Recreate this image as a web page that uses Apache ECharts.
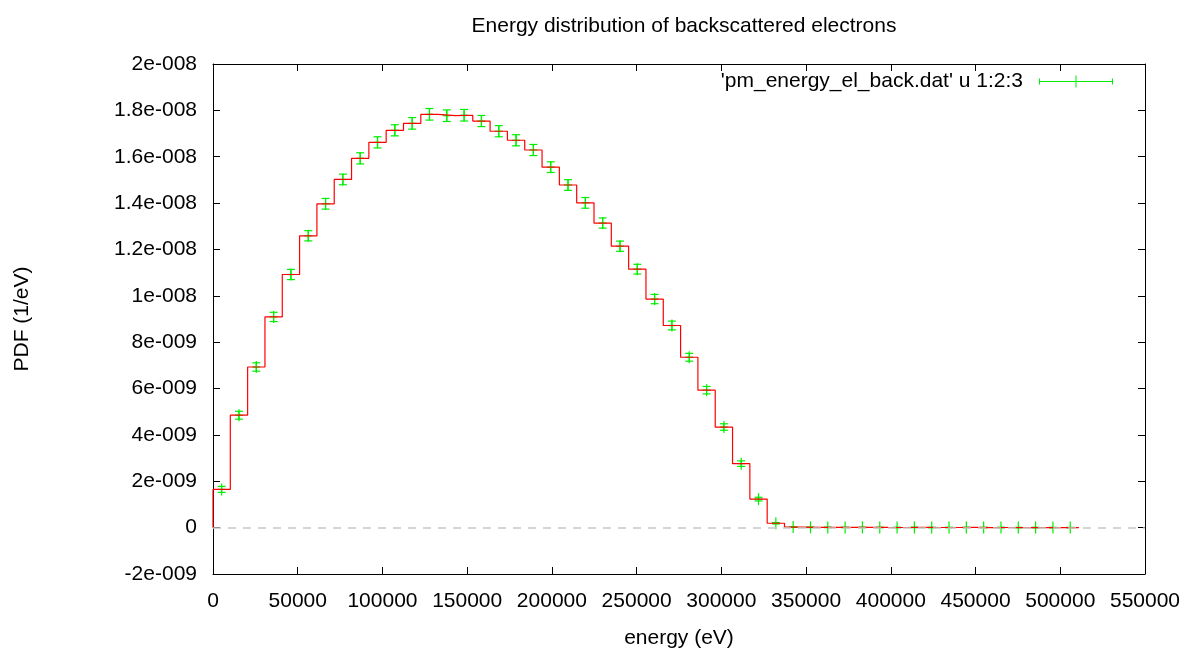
<!DOCTYPE html>
<html>
<head>
<meta charset="utf-8">
<title>Energy distribution of backscattered electrons</title>
<script src="https://cdn.jsdelivr.net/npm/echarts@6/dist/echarts.min.js"></script>
<style>
html, body { margin: 0; padding: 0; background: #fff; }
#chart { width: 1184px; height: 655px; }
</style>
</head>
<body>
<div id="chart"></div>
<script>
// bin centres (eV), 50 bins up to 511 keV
var energy = [5110, 15330, 25550, 35770, 45990, 56210, 66430, 76650, 86870, 97090,
    107310, 117530, 127750, 137970, 148190, 158410, 168630, 178850, 189070, 199290,
    209510, 219730, 229950, 240170, 250390, 260610, 270830, 281050, 291270, 301490,
    311710, 321930, 332150, 342370, 352590, 362810, 373030, 383250, 393470, 403690,
    413910, 424130, 434350, 444570, 454790, 465010, 475230, 485450, 495670, 505890];
// PDF (1/eV)
var pdf = [1.65e-9, 4.85e-9, 6.93e-9, 9.09e-9, 1.092e-8, 1.259e-8, 1.397e-8, 1.502e-8, 1.593e-8, 1.662e-8,
    1.714e-8, 1.744e-8, 1.783e-8, 1.777e-8, 1.779e-8, 1.754e-8, 1.710e-8, 1.671e-8, 1.629e-8, 1.555e-8,
    1.478e-8, 1.401e-8, 1.314e-8, 1.214e-8, 1.115e-8, 9.86e-9, 8.72e-9, 7.35e-9, 5.93e-9, 4.34e-9,
    2.76e-9, 1.23e-9, 1.9e-10, 2.5e-11, 1.2e-11, 1.0e-11, 0.8e-11, 1.0e-11, 0.7e-11, 0.6e-11,
    0.9e-11, 0.5e-11, 0.6e-11, 0.7e-11, 0.4e-11, 0.5e-11, 0.3e-11, 0.4e-11, 0.3e-11, 0.2e-11];
// error column
var err = [1.3e-10, 1.7e-10, 1.8e-10, 2.0e-10, 2.2e-10, 2.2e-10, 2.3e-10, 2.3e-10, 2.4e-10, 2.4e-10,
    2.4e-10, 2.5e-10, 2.5e-10, 2.5e-10, 2.5e-10, 2.4e-10, 2.4e-10, 2.4e-10, 2.4e-10, 2.3e-10,
    2.3e-10, 2.3e-10, 2.2e-10, 2.2e-10, 2.1e-10, 2.0e-10, 1.9e-10, 1.7e-10, 1.6e-10, 1.4e-10,
    1.2e-10, 0.8e-10, 0.3e-10, 0.1e-10, 0.1e-10, 0.1e-10, 0.1e-10, 0.1e-10, 0.1e-10, 0.1e-10,
    0.1e-10, 0.1e-10, 0.1e-10, 0.1e-10, 0.1e-10, 0.1e-10, 0.1e-10, 0.1e-10, 0.1e-10, 0.1e-10];

var seriesName = "'pm_energy_el_back.dat' u 1:2:3";
var font = 'Liberation Sans, Arial, Helvetica, sans-serif';
var fs = 21;
var green = '#00ee00';
var red = '#ff0000';

// points for the error bars
var barData = [];
for (var i = 0; i < energy.length; i++) {
    barData.push([energy[i], pdf[i], err[i]]);
}
// histogram steps (edges halfway between centres)
var stepData = [[0, 0]];
for (var i = 0; i < energy.length; i++) {
    var w = (i < energy.length - 1) ? energy[i + 1] - energy[i] : energy[i] - energy[i - 1];
    stepData.push([energy[i] - w / 2, pdf[i]]);
    stepData.push([energy[i] + w / 2, pdf[i]]);
}

// 1.8e-008 style labels
function expLabel(v) {
    if (Math.abs(v) < 1e-15) return '0';
    var s = Number(v.toPrecision(6)).toExponential();
    var parts = s.split('e');
    var ex = parseInt(parts[1], 10);
    var sign = ex < 0 ? '-' : '+';
    var digits = String(Math.abs(ex));
    while (digits.length < 3) digits = '0' + digits;
    return parts[0] + 'e' + sign + digits;
}

var chart = echarts.init(document.getElementById('chart'));

var axisLineStyle = { color: '#000', width: 1 };
var tickStyle = { show: true, inside: true, length: 7, lineStyle: { color: '#000', width: 1 } };

var option = {
    backgroundColor: '#fff',
    animation: false,
    title: {
        text: 'Energy distribution of backscattered electrons',
        left: 679,
        top: 11,
        textAlign: 'center',
        textStyle: { color: '#000', fontSize: fs, fontWeight: 'normal', fontFamily: font }
    },
    legend: {
        right: 71,
        top: 71,
        padding: 0,
        align: 'right',
        itemWidth: 74,
        itemHeight: 12,
        data: [{
            name: seriesName,
            icon: 'path://M0,3h1v6h-1z M0,5.5h74v1h-74z M73,3h1v6h-1z M36.5,0h1v12h-1z'
        }],
        itemStyle: { color: green },
        textStyle: { color: '#000', fontSize: fs, fontFamily: font, padding: [0, 11, 0, 0] }
    },
    grid: { left: 213, top: 64, width: 932, height: 510, containLabel: false },
    xAxis: [{
        type: 'value',
        min: 0, max: 550000, interval: 50000,
        name: 'energy (eV)',
        nameLocation: 'middle',
        nameGap: 54,
        nameTextStyle: { color: '#000', fontSize: fs, fontFamily: font },
        axisLine: { show: true, onZero: false, lineStyle: axisLineStyle },
        axisTick: tickStyle,
        axisLabel: {
            color: '#000', fontSize: fs, fontFamily: font, margin: 17,
            showMinLabel: true, showMaxLabel: true,
            formatter: function (v) { return String(v); }
        },
        splitLine: { show: false }
    }, {
        type: 'value',
        position: 'top',
        min: 0, max: 550000, interval: 50000,
        axisLine: { show: true, onZero: false, lineStyle: axisLineStyle },
        axisTick: tickStyle,
        axisLabel: { show: false },
        splitLine: { show: false }
    }],
    yAxis: [{
        type: 'value',
        min: -2e-9, max: 2e-8, interval: 2e-9,
        name: 'PDF (1/eV)',
        nameLocation: 'middle',
        nameGap: 180,
        nameRotate: 90,
        nameTextStyle: { color: '#000', fontSize: fs, fontFamily: font },
        axisLine: { show: true, onZero: false, lineStyle: axisLineStyle },
        axisTick: tickStyle,
        axisLabel: { color: '#000', fontSize: fs, fontFamily: font, margin: 16, formatter: expLabel, showMinLabel: true, showMaxLabel: true },
        splitLine: { show: false }
    }, {
        type: 'value',
        position: 'right',
        min: -2e-9, max: 2e-8, interval: 2e-9,
        axisLine: { show: true, onZero: false, lineStyle: axisLineStyle },
        axisTick: tickStyle,
        axisLabel: { show: false },
        splitLine: { show: false }
    }],
    series: [{
        name: 'zero',
        type: 'line',
        data: [],
        silent: true,
        markLine: {
            silent: true,
            symbol: 'none',
            label: { show: false },
            lineStyle: { color: '#c8c8c8', type: [8, 7], width: 1.5 },
            data: [{ yAxis: 0 }]
        }
    }, {
        name: seriesName,
        type: 'custom',
        data: barData,
        itemStyle: { color: green },
        renderItem: function (params, api) {
            var x = api.value(0), y = api.value(1), e = api.value(2);
            var p = api.coord([x, y]);
            var hi = api.coord([x, y + e]);
            var lo = api.coord([x, y - e]);
            var st = { stroke: green, lineWidth: 1.2 };
            return {
                type: 'group',
                children: [
                    { type: 'line', shape: { x1: p[0], y1: hi[1], x2: p[0], y2: lo[1] }, style: st },
                    { type: 'line', shape: { x1: p[0] - 4, y1: hi[1], x2: p[0] + 4, y2: hi[1] }, style: st },
                    { type: 'line', shape: { x1: p[0] - 4, y1: lo[1], x2: p[0] + 4, y2: lo[1] }, style: st },
                    { type: 'line', shape: { x1: p[0] - 4, y1: p[1], x2: p[0] + 4, y2: p[1] }, style: st },
                    { type: 'line', shape: { x1: p[0], y1: p[1] - 6, x2: p[0], y2: p[1] + 6 }, style: st }
                ]
            };
        }
    }, {
        name: 'histeps',
        type: 'line',
        data: stepData,
        symbol: 'none',
        silent: true,
        lineStyle: { color: red, width: 1.2 },
        z: 3
    }]
};

chart.setOption(option);
</script>
</body>
</html>
